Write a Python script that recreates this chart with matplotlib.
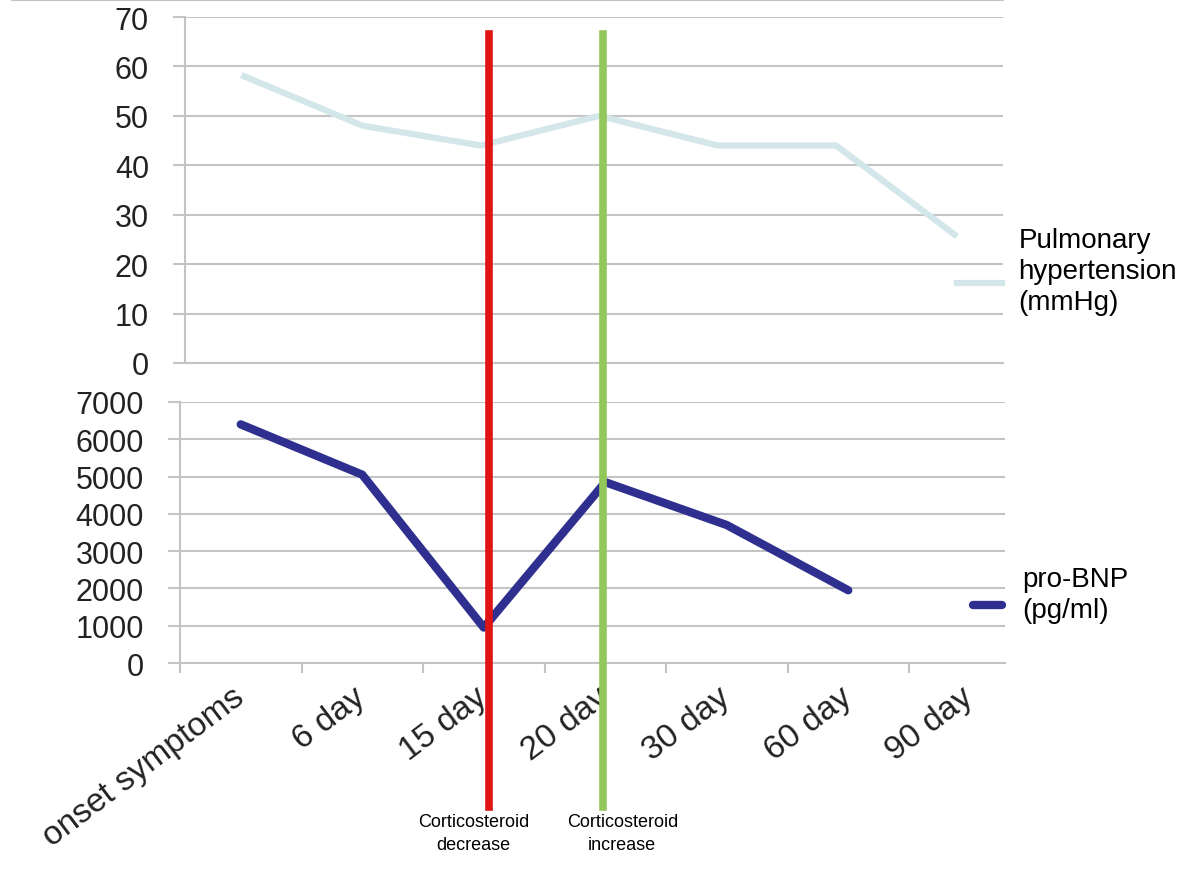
import numpy as np
import matplotlib.pyplot as plt
from matplotlib.lines import Line2D
from matplotlib.transforms import Affine2D

plt.rcParams['font.family'] = ['Liberation Sans', 'DejaVu Sans']

# data
categories = ['onset symptoms', '6 day', '15 day', '20 day', '30 day', '60 day', '90 day']
pulm_htn = [58, 48, 44, 50, 44, 44, 26]          # mmHg
pro_bnp = [6400, 5050, 950, 4850, 3700, 1950]    # pg/ml, no 90 day value
event_pos = [2.04, 2.98]
event_labels = ['Corticosteroid\ndecrease', 'Corticosteroid\nincrease']
event_colors = ['#e01414', '#92c85a']
event_text_dx = [-11, 14]   # label offsets (pt) from the line

grid_col = '#c4c4c4'
tick_fs = 22
fig = plt.figure(figsize=(12, 8.7), dpi=100)


def style_axes(ax):
    ax.yaxis.grid(True, color=grid_col, lw=1.5)
    ax.set_axisbelow(True)
    ax.tick_params(axis='y', length=9, width=1.5, color=grid_col, pad=17,
                   labelsize=tick_fs, labelcolor='#222222')
    for s in ['top', 'right']:
        ax.spines[s].set_visible(False)
    for s in ['left', 'bottom']:
        ax.spines[s].set_color(grid_col)
        ax.spines[s].set_linewidth(1.5)


def drop_handle(leg, px):
    # Excel puts the legend key a bit below the middle of the label
    for ln in leg.get_lines():
        ln.set_transform(ln.get_transform() + Affine2D().translate(0, -px))


# ---- top panel: pulmonary hypertension
ax1 = fig.add_axes([185/1200, 1-364/870, (1003-185)/1200, (364-18)/870])
x1 = np.arange(len(pulm_htn))
ax1.plot(x1, pulm_htn, color='#d3e6e9', lw=4.5, solid_joinstyle='round',
         label='Pulmonary\nhypertension\n(mmHg)')
ax1.set_xlim(-0.5, 6.41)
ax1.set_ylim(0, 70)
ax1.set_yticks(range(0, 71, 10))
ax1.set_xticks([])
style_axes(ax1)
leg1 = ax1.legend(loc='center left', bbox_to_anchor=(0.944, 0.266), frameon=False,
                  fontsize=20, handlelength=1.62, handletextpad=0.58,
                  borderaxespad=0, borderpad=0)
for t in leg1.get_texts():
    t.set_linespacing(1.25)
drop_handle(leg1, 12)

# ---- bottom panel: pro-BNP
ax2 = fig.add_axes([180/1200, 1-664/870, (1005-180)/1200, (664-403)/870])
x2 = np.arange(len(pro_bnp))
ax2.plot(x2, pro_bnp, color='#2e2f8f', lw=6, solid_joinstyle='round',
         solid_capstyle='round', label='pro-BNP\n(pg/ml)')
ax2.set_xlim(-0.5, 6.29)
ax2.set_ylim(0, 7000)
ax2.set_yticks(range(0, 7001, 1000))
ax2.set_xticks(np.arange(len(categories)))
ax2.set_xticklabels(categories, rotation=37, ha='right', va='center',
                    rotation_mode='anchor', fontsize=24, color='#222222')
ax2.set_xticks(np.arange(-0.5, 6, 1), minor=True)
ax2.tick_params(axis='x', which='major', length=0, pad=22)
ax2.tick_params(axis='x', which='minor', length=7, width=1.5, color=grid_col)
style_axes(ax2)
leg2 = ax2.legend(loc='center left', bbox_to_anchor=(0.961, 0.264), frameon=False,
                  fontsize=20, handlelength=1.05, handletextpad=0.72,
                  borderaxespad=0, borderpad=0)
for t in leg2.get_texts():
    t.set_linespacing(1.25)
drop_handle(leg2, 11)

# corticosteroid change markers spanning both panels
for xp, lab, col, dx in zip(event_pos, event_labels, event_colors, event_text_dx):
    ax2.axvline(xp, ymin=-0.552, ymax=2.41, color=col, lw=5.5, clip_on=False, zorder=5)
    ax2.annotate(lab, xy=(xp, 0), xycoords=('data', 'axes fraction'),
                 xytext=(dx, -108), textcoords='offset points',
                 ha='center', va='top', fontsize=13, linespacing=1.45,
                 family=['Liberation Sans Narrow', 'Liberation Sans'])

# thin frame remnant along the top edge
fig.add_artist(Line2D([0.01, 0.836], [0.999, 0.999], color=grid_col, lw=1.5))

fig.savefig('out.png', dpi=100)
